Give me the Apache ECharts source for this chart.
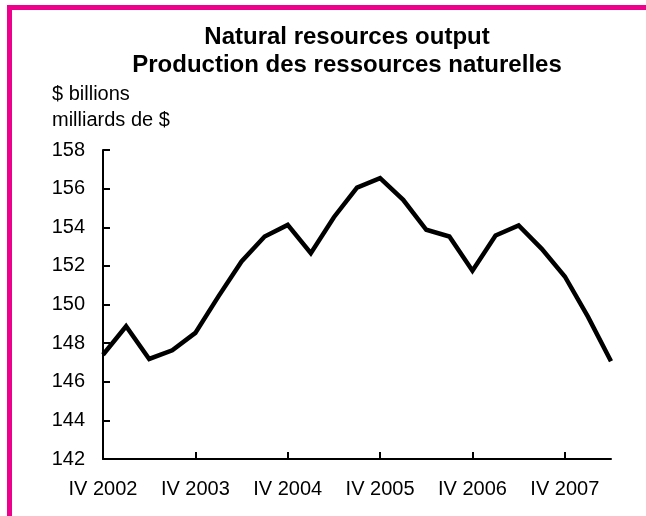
<!DOCTYPE html>
<html>
<head>
<meta charset="utf-8">
<script src="https://cdn.jsdelivr.net/npm/echarts@6/dist/echarts.min.js"></script>
<style>
html,body{margin:0;padding:0;background:#fff;}
#chart{width:646px;height:516px;}
</style>
</head>
<body>
<div id="chart"></div>
<script>
const quarters = ["IV 2002","I 2003","II 2003","III 2003","IV 2003","I 2004","II 2004","III 2004","IV 2004","I 2005","II 2005","III 2005","IV 2005","I 2006","II 2006","III 2006","IV 2006","I 2007","II 2007","III 2007","IV 2007","I 2008","II 2008"];
const output = [147.4,148.87,147.18,147.63,148.53,150.42,152.23,153.52,154.12,152.66,154.52,156.05,156.54,155.42,153.87,153.52,151.75,153.57,154.09,152.88,151.45,149.37,147.06];
const titleLines = ["Natural resources output","Production des ressources naturelles"];
const unitLines = ["$ billions","milliards de $"];

const font = "'Liberation Sans', Arial, sans-serif";
const chart = echarts.init(document.getElementById('chart'), null, {renderer:'canvas'});
chart.setOption({
  animation:false,
  backgroundColor:'#fff',
  title:{
    text:titleLines.join('\n'),
    left:347, top:23, textAlign:'center', padding:0,
    textStyle:{fontFamily:font, fontSize:24, fontWeight:'bold', color:'#000', lineHeight:28}
  },
  graphic:[
    {type:'rect', shape:{x:7,y:5,width:639,height:5}, style:{fill:'#EC008C'}, silent:true},
    {type:'rect', shape:{x:7,y:5,width:5,height:511}, style:{fill:'#EC008C'}, silent:true},
    {type:'text', style:{x:52,y:94,text:unitLines[0],fontFamily:font,fontSize:20,fill:'#000',verticalAlign:'middle'}},
    {type:'text', style:{x:52,y:120,text:unitLines[1],fontFamily:font,fontSize:20,fill:'#000',verticalAlign:'middle'}}
  ],
  grid:{left:103, right:35, top:150, bottom:57, containLabel:false},
  xAxis:{
    type:'category', data:quarters, boundaryGap:false,
    axisLine:{lineStyle:{color:'#000', width:2}},
    axisTick:{inside:true, length:7, interval:3, lineStyle:{color:'#000', width:2}},
    axisLabel:{interval:3, margin:20, fontFamily:font, fontSize:20, color:'#000'},
    splitLine:{show:false}
  },
  yAxis:{
    type:'value', min:142, max:158, interval:2,
    axisLine:{show:true, lineStyle:{color:'#000', width:2}},
    axisTick:{show:true, inside:true, length:7, lineStyle:{color:'#000', width:2}},
    axisLabel:{margin:18, fontFamily:font, fontSize:20, color:'#000'},
    splitLine:{show:false}
  },
  series:[{
    type:'line', data:output, showSymbol:false, symbol:'none',
    lineStyle:{color:'#000', width:4.5, join:'miter'}
  }]
});
</script>
</body>
</html>
